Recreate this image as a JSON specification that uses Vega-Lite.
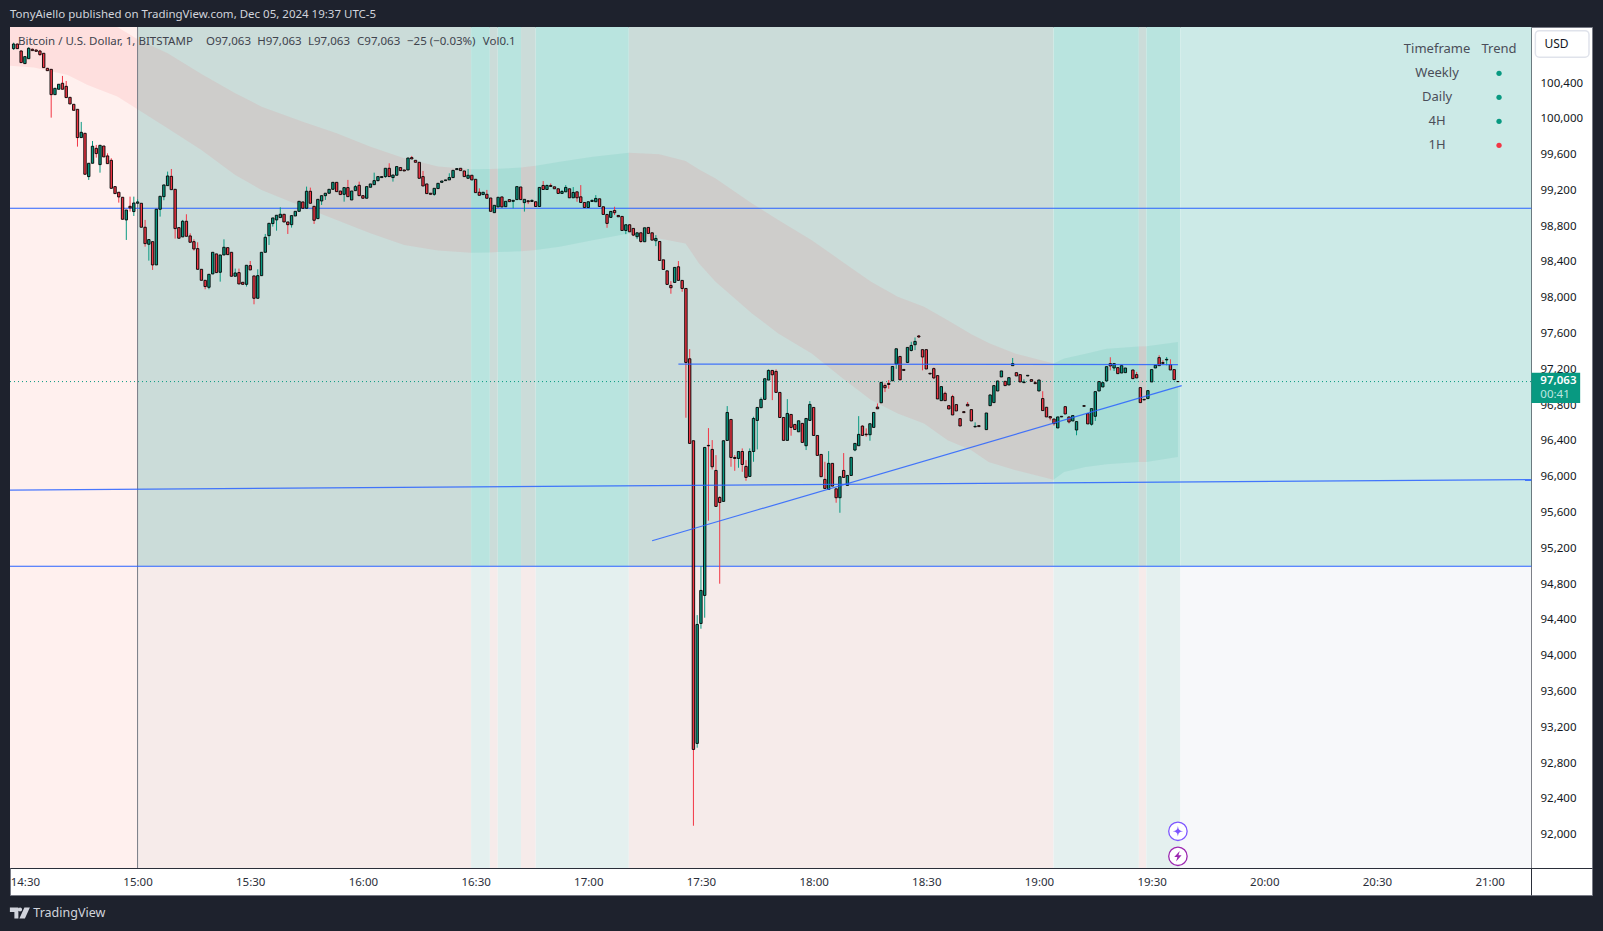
{"$schema":"https://vega.github.io/schema/vega-lite/v6.json","width":1582,"height":868,"autosize":{"type":"none"},"padding":{"left":10,"top":27,"right":11,"bottom":36},"background":"#1e222d","view":{"fill":"#ffffff","stroke":"#787b86"},
"title":{"text":"TonyAiello published on TradingView.com, Dec 05, 2024 19:37 UTC-5","anchor":"start","frame":"group","fontSize":11.5,"fontWeight":"normal","font":"Noto Sans","color":"#d1d4dc","offset":6},
"datasets":{
"zones":[
{"t":"2024-12-05T14:26:02Z","t1":"2024-12-05T15:00Z","a":101026,"b":91627,"z":"left"},
{"t":"2024-12-05T15:00Z","t1":"2024-12-05T16:28:48Z","a":101026,"b":95000,"z":"topR"},
{"t":"2024-12-05T15:00Z","t1":"2024-12-05T16:28:48Z","a":95000,"b":91627,"z":"botR"},
{"t":"2024-12-05T16:28:48Z","t1":"2024-12-05T16:33:48Z","a":101026,"b":95000,"z":"topT"},
{"t":"2024-12-05T16:28:48Z","t1":"2024-12-05T16:33:48Z","a":95000,"b":91627,"z":"botT"},
{"t":"2024-12-05T16:33:48Z","t1":"2024-12-05T16:35:54Z","a":101026,"b":95000,"z":"topR"},
{"t":"2024-12-05T16:33:48Z","t1":"2024-12-05T16:35:54Z","a":95000,"b":91627,"z":"botR"},
{"t":"2024-12-05T16:35:54Z","t1":"2024-12-05T16:42:06Z","a":101026,"b":95000,"z":"topT"},
{"t":"2024-12-05T16:35:54Z","t1":"2024-12-05T16:42:06Z","a":95000,"b":91627,"z":"botT"},
{"t":"2024-12-05T16:42:06Z","t1":"2024-12-05T16:46Z","a":101026,"b":95000,"z":"topR"},
{"t":"2024-12-05T16:42:06Z","t1":"2024-12-05T16:46Z","a":95000,"b":91627,"z":"botR"},
{"t":"2024-12-05T16:46Z","t1":"2024-12-05T17:10:48Z","a":101026,"b":95000,"z":"topT"},
{"t":"2024-12-05T16:46Z","t1":"2024-12-05T17:10:48Z","a":95000,"b":91627,"z":"botT"},
{"t":"2024-12-05T17:10:48Z","t1":"2024-12-05T19:03:53Z","a":101026,"b":95000,"z":"topR"},
{"t":"2024-12-05T17:10:48Z","t1":"2024-12-05T19:03:53Z","a":95000,"b":91627,"z":"botR"},
{"t":"2024-12-05T19:03:53Z","t1":"2024-12-05T19:26:36Z","a":101026,"b":95000,"z":"topT"},
{"t":"2024-12-05T19:03:53Z","t1":"2024-12-05T19:26:36Z","a":95000,"b":91627,"z":"botT"},
{"t":"2024-12-05T19:26:36Z","t1":"2024-12-05T19:28:35Z","a":101026,"b":95000,"z":"topR"},
{"t":"2024-12-05T19:26:36Z","t1":"2024-12-05T19:28:35Z","a":95000,"b":91627,"z":"botR"},
{"t":"2024-12-05T19:28:35Z","t1":"2024-12-05T19:37:40Z","a":101026,"b":95000,"z":"topT"},
{"t":"2024-12-05T19:28:35Z","t1":"2024-12-05T19:37:40Z","a":95000,"b":91627,"z":"botT"},
{"t":"2024-12-05T19:37:40Z","t1":"2024-12-05T21:11:07Z","a":101026,"b":95000,"z":"topN"},
{"t":"2024-12-05T19:37:40Z","t1":"2024-12-05T21:11:07Z","a":95000,"b":91627,"z":"botN"}
],
"cloud":[
{"s":"1","d":"bear","t":"2024-12-05T14:26:02Z","u":101026,"l":100594},
{"s":"1","d":"bear","t":"2024-12-05T14:32:24Z","u":101026,"l":100572},
{"s":"1","d":"bear","t":"2024-12-05T14:41:24Z","u":101026,"l":100490},
{"s":"1","d":"bear","t":"2024-12-05T14:46:42Z","u":101026,"l":100378},
{"s":"1","d":"bear","t":"2024-12-05T14:54:36Z","u":101026,"l":100248},
{"s":"1","d":"bear","t":"2024-12-05T15:00Z","u":100888,"l":100106},
{"s":"1","d":"bear","t":"2024-12-05T15:08Z","u":100732,"l":99894},
{"s":"1","d":"bear","t":"2024-12-05T15:17Z","u":100501,"l":99652},
{"s":"1","d":"bear","t":"2024-12-05T15:26Z","u":100285,"l":99372},
{"s":"1","d":"bear","t":"2024-12-05T15:33Z","u":100136,"l":99205},
{"s":"1","d":"bear","t":"2024-12-05T15:44Z","u":99968,"l":99018},
{"s":"1","d":"bear","t":"2024-12-05T15:53Z","u":99838,"l":98870},
{"s":"1","d":"bear","t":"2024-12-05T16:02Z","u":99689,"l":98720},
{"s":"1","d":"bear","t":"2024-12-05T16:11Z","u":99559,"l":98590},
{"s":"1","d":"bear","t":"2024-12-05T16:20Z","u":99466,"l":98527},
{"s":"1","d":"bear","t":"2024-12-05T16:28:48Z","u":99436,"l":98504},
{"s":"2","d":"bull","t":"2024-12-05T16:28:48Z","u":99436,"l":98504},
{"s":"2","d":"bull","t":"2024-12-05T16:33:48Z","u":99440,"l":98506},
{"s":"3","d":"bear","t":"2024-12-05T16:33:48Z","u":99440,"l":98506},
{"s":"3","d":"bear","t":"2024-12-05T16:35:54Z","u":99441,"l":98510},
{"s":"4","d":"bull","t":"2024-12-05T16:35:54Z","u":99441,"l":98510},
{"s":"4","d":"bull","t":"2024-12-05T16:42:06Z","u":99455,"l":98520},
{"s":"5","d":"bear","t":"2024-12-05T16:42:06Z","u":99455,"l":98520},
{"s":"5","d":"bear","t":"2024-12-05T16:46Z","u":99475,"l":98535},
{"s":"6","d":"bull","t":"2024-12-05T16:46Z","u":99475,"l":98535},
{"s":"6","d":"bull","t":"2024-12-05T16:52:24Z","u":99520,"l":98570},
{"s":"6","d":"bull","t":"2024-12-05T17:01:12Z","u":99575,"l":98644},
{"s":"6","d":"bull","t":"2024-12-05T17:10:48Z","u":99620,"l":98719},
{"s":"7","d":"bear","t":"2024-12-05T17:10:48Z","u":99620,"l":98719},
{"s":"7","d":"bear","t":"2024-12-05T17:18:54Z","u":99605,"l":98663},
{"s":"7","d":"bear","t":"2024-12-05T17:25:54Z","u":99527,"l":98607},
{"s":"7","d":"bear","t":"2024-12-05T17:29:30Z","u":99434,"l":98384},
{"s":"7","d":"bear","t":"2024-12-05T17:33:54Z","u":99333,"l":98179},
{"s":"7","d":"bear","t":"2024-12-05T17:43:36Z","u":99054,"l":97825},
{"s":"7","d":"bear","t":"2024-12-05T17:50:36Z","u":98868,"l":97601},
{"s":"7","d":"bear","t":"2024-12-05T17:59:30Z","u":98644,"l":97378},
{"s":"7","d":"bear","t":"2024-12-05T18:08:18Z","u":98384,"l":97080},
{"s":"7","d":"bear","t":"2024-12-05T18:15:18Z","u":98179,"l":96856},
{"s":"7","d":"bear","t":"2024-12-05T18:22:24Z","u":98011,"l":96707},
{"s":"7","d":"bear","t":"2024-12-05T18:29:24Z","u":97899,"l":96596},
{"s":"7","d":"bear","t":"2024-12-05T18:35:42Z","u":97748,"l":96407},
{"s":"7","d":"bear","t":"2024-12-05T18:42Z","u":97592,"l":96295},
{"s":"7","d":"bear","t":"2024-12-05T18:46:36Z","u":97495,"l":96165},
{"s":"7","d":"bear","t":"2024-12-05T18:53:48Z","u":97375,"l":96072},
{"s":"7","d":"bear","t":"2024-12-05T19:03:53Z","u":97264,"l":95967},
{"s":"8","d":"bull","t":"2024-12-05T19:03:53Z","u":97264,"l":95967},
{"s":"8","d":"bull","t":"2024-12-05T19:06:42Z","u":97320,"l":96053},
{"s":"8","d":"bull","t":"2024-12-05T19:12:24Z","u":97375,"l":96109},
{"s":"8","d":"bull","t":"2024-12-05T19:18Z","u":97431,"l":96139},
{"s":"8","d":"bull","t":"2024-12-05T19:26:36Z","u":97455,"l":96165},
{"s":"9","d":"bear","t":"2024-12-05T19:26:36Z","u":97455,"l":96165},
{"s":"9","d":"bear","t":"2024-12-05T19:28:35Z","u":97458,"l":96165},
{"s":"10","d":"bull","t":"2024-12-05T19:28:35Z","u":97458,"l":96165},
{"s":"10","d":"bull","t":"2024-12-05T19:37Z","u":97506,"l":96221}
],
"levels":[
{"k":"a","t":"2024-12-05T14:26:02Z","p":99000},{"k":"a","t":"2024-12-05T21:11:07Z","p":99000},
{"k":"b","t":"2024-12-05T14:26:02Z","p":95000},{"k":"b","t":"2024-12-05T21:11:07Z","p":95000}
],
"drawn":[
{"k":"c","t":"2024-12-05T14:26:02Z","p":95851},{"k":"c","t":"2024-12-05T21:11:07Z","p":95967},
{"k":"d","t":"2024-12-05T17:24Z","p":97259},{"k":"d","t":"2024-12-05T19:37Z","p":97253},
{"k":"e","t":"2024-12-05T17:17Z","p":95284},{"k":"e","t":"2024-12-05T19:38Z","p":97018}
],
"last":[{"t":"2024-12-05T14:26:02Z","p":97063},{"t":"2024-12-05T21:11:07Z","p":97063}],
"candles":[
{"t":"2024-12-05T14:27Z","o":100784,"h":100851,"l":100769,"c":100836},
{"t":"2024-12-05T14:28Z","o":100836,"h":100840,"l":100784,"c":100784},
{"t":"2024-12-05T14:29Z","o":100758,"h":100765,"l":100628,"c":100628},
{"t":"2024-12-05T14:30Z","o":100617,"h":100695,"l":100617,"c":100695},
{"t":"2024-12-05T14:31Z","o":100672,"h":100800,"l":100672,"c":100788},
{"t":"2024-12-05T14:32Z","o":100777,"h":100785,"l":100762,"c":100762},
{"t":"2024-12-05T14:33Z","o":100769,"h":100775,"l":100754,"c":100754},
{"t":"2024-12-05T14:34Z","o":100758,"h":100770,"l":100705,"c":100717},
{"t":"2024-12-05T14:35Z","o":100732,"h":100732,"l":100572,"c":100572},
{"t":"2024-12-05T14:36Z","o":100564,"h":100570,"l":100538,"c":100538},
{"t":"2024-12-05T14:37Z","o":100553,"h":100553,"l":100013,"c":100270},
{"t":"2024-12-05T14:38Z","o":100270,"h":100341,"l":100270,"c":100341},
{"t":"2024-12-05T14:39Z","o":100330,"h":100386,"l":100330,"c":100386},
{"t":"2024-12-05T14:40Z","o":100397,"h":100479,"l":100330,"c":100330},
{"t":"2024-12-05T14:41Z","o":100363,"h":100423,"l":100237,"c":100237},
{"t":"2024-12-05T14:42Z","o":100240,"h":100240,"l":100166,"c":100166},
{"t":"2024-12-05T14:43Z","o":100162,"h":100162,"l":100095,"c":100095},
{"t":"2024-12-05T14:44Z","o":100106,"h":100106,"l":99689,"c":99790},
{"t":"2024-12-05T14:45Z","o":99790,"h":99965,"l":99790,"c":99849},
{"t":"2024-12-05T14:46Z","o":99838,"h":99838,"l":99380,"c":99380},
{"t":"2024-12-05T14:47Z","o":99354,"h":99503,"l":99317,"c":99503},
{"t":"2024-12-05T14:48Z","o":99503,"h":99752,"l":99503,"c":99693},
{"t":"2024-12-05T14:49Z","o":99670,"h":99708,"l":99566,"c":99611},
{"t":"2024-12-05T14:50Z","o":99488,"h":99704,"l":99398,"c":99704},
{"t":"2024-12-05T14:51Z","o":99696,"h":99696,"l":99574,"c":99574},
{"t":"2024-12-05T14:52Z","o":99585,"h":99614,"l":99499,"c":99499},
{"t":"2024-12-05T14:53Z","o":99536,"h":99559,"l":99223,"c":99223},
{"t":"2024-12-05T14:54Z","o":99242,"h":99242,"l":99164,"c":99164},
{"t":"2024-12-05T14:55Z","o":99179,"h":99179,"l":99063,"c":99127},
{"t":"2024-12-05T14:56Z","o":99123,"h":99123,"l":98877,"c":98877},
{"t":"2024-12-05T14:57Z","o":98870,"h":98981,"l":98646,"c":98981},
{"t":"2024-12-05T14:58Z","o":99022,"h":99130,"l":98963,"c":99004},
{"t":"2024-12-05T14:59Z","o":98963,"h":99130,"l":98914,"c":99059},
{"t":"2024-12-05T15:00Z","o":99056,"h":99100,"l":99056,"c":99071},
{"t":"2024-12-05T15:01Z","o":99056,"h":99056,"l":98788,"c":98788},
{"t":"2024-12-05T15:02Z","o":98788,"h":98870,"l":98571,"c":98605},
{"t":"2024-12-05T15:03Z","o":98598,"h":98650,"l":98415,"c":98650},
{"t":"2024-12-05T15:04Z","o":98627,"h":98627,"l":98311,"c":98367},
{"t":"2024-12-05T15:05Z","o":98367,"h":98989,"l":98367,"c":98989},
{"t":"2024-12-05T15:06Z","o":98989,"h":99134,"l":98907,"c":99134},
{"t":"2024-12-05T15:07Z","o":99130,"h":99261,"l":99090,"c":99261},
{"t":"2024-12-05T15:08Z","o":99253,"h":99410,"l":99253,"c":99361},
{"t":"2024-12-05T15:09Z","o":99357,"h":99439,"l":99208,"c":99208},
{"t":"2024-12-05T15:10Z","o":99212,"h":99212,"l":98661,"c":98773},
{"t":"2024-12-05T15:11Z","o":98784,"h":98784,"l":98665,"c":98665},
{"t":"2024-12-05T15:12Z","o":98680,"h":98870,"l":98680,"c":98855},
{"t":"2024-12-05T15:13Z","o":98855,"h":98933,"l":98687,"c":98687},
{"t":"2024-12-05T15:14Z","o":98691,"h":98720,"l":98620,"c":98620},
{"t":"2024-12-05T15:15Z","o":98627,"h":98653,"l":98527,"c":98545},
{"t":"2024-12-05T15:16Z","o":98549,"h":98620,"l":98318,"c":98318},
{"t":"2024-12-05T15:17Z","o":98318,"h":98318,"l":98195,"c":98195},
{"t":"2024-12-05T15:18Z","o":98195,"h":98195,"l":98095,"c":98125},
{"t":"2024-12-05T15:19Z","o":98117,"h":98262,"l":98095,"c":98262},
{"t":"2024-12-05T15:20Z","o":98266,"h":98508,"l":98266,"c":98508},
{"t":"2024-12-05T15:21Z","o":98490,"h":98490,"l":98281,"c":98281},
{"t":"2024-12-05T15:22Z","o":98285,"h":98478,"l":98180,"c":98478},
{"t":"2024-12-05T15:23Z","o":98478,"h":98653,"l":98478,"c":98564},
{"t":"2024-12-05T15:24Z","o":98560,"h":98560,"l":98482,"c":98482},
{"t":"2024-12-05T15:25Z","o":98508,"h":98508,"l":98240,"c":98240},
{"t":"2024-12-05T15:26Z","o":98240,"h":98326,"l":98240,"c":98277},
{"t":"2024-12-05T15:27Z","o":98281,"h":98326,"l":98154,"c":98154},
{"t":"2024-12-05T15:28Z","o":98173,"h":98173,"l":98150,"c":98150},
{"t":"2024-12-05T15:29Z","o":98150,"h":98363,"l":98125,"c":98363},
{"t":"2024-12-05T15:30Z","o":98359,"h":98411,"l":98311,"c":98311},
{"t":"2024-12-05T15:31Z","o":98244,"h":98244,"l":97927,"c":97994},
{"t":"2024-12-05T15:32Z","o":97994,"h":98318,"l":97994,"c":98247},
{"t":"2024-12-05T15:33Z","o":98247,"h":98508,"l":98247,"c":98508},
{"t":"2024-12-05T15:34Z","o":98508,"h":98713,"l":98508,"c":98676},
{"t":"2024-12-05T15:35Z","o":98694,"h":98832,"l":98590,"c":98832},
{"t":"2024-12-05T15:36Z","o":98829,"h":98892,"l":98795,"c":98892},
{"t":"2024-12-05T15:37Z","o":98870,"h":98922,"l":98750,"c":98922},
{"t":"2024-12-05T15:38Z","o":98896,"h":99011,"l":98896,"c":98933},
{"t":"2024-12-05T15:39Z","o":98933,"h":98933,"l":98847,"c":98847},
{"t":"2024-12-05T15:40Z","o":98847,"h":98847,"l":98713,"c":98817},
{"t":"2024-12-05T15:41Z","o":98817,"h":98918,"l":98784,"c":98918},
{"t":"2024-12-05T15:42Z","o":98914,"h":98966,"l":98914,"c":98966},
{"t":"2024-12-05T15:43Z","o":98966,"h":99078,"l":98966,"c":99078},
{"t":"2024-12-05T15:44Z","o":99071,"h":99071,"l":99000,"c":99000},
{"t":"2024-12-05T15:45Z","o":99000,"h":99242,"l":99000,"c":99190},
{"t":"2024-12-05T15:46Z","o":99190,"h":99231,"l":99056,"c":99056},
{"t":"2024-12-05T15:47Z","o":99022,"h":99022,"l":98825,"c":98866},
{"t":"2024-12-05T15:48Z","o":98884,"h":99100,"l":98884,"c":99100},
{"t":"2024-12-05T15:49Z","o":99082,"h":99141,"l":99037,"c":99141},
{"t":"2024-12-05T15:50Z","o":99141,"h":99168,"l":99093,"c":99168},
{"t":"2024-12-05T15:51Z","o":99168,"h":99212,"l":99168,"c":99212},
{"t":"2024-12-05T15:52Z","o":99212,"h":99290,"l":99212,"c":99290},
{"t":"2024-12-05T15:53Z","o":99290,"h":99290,"l":99186,"c":99186},
{"t":"2024-12-05T15:54Z","o":99193,"h":99193,"l":99153,"c":99153},
{"t":"2024-12-05T15:55Z","o":99156,"h":99231,"l":99074,"c":99231},
{"t":"2024-12-05T15:56Z","o":99231,"h":99317,"l":99130,"c":99130},
{"t":"2024-12-05T15:57Z","o":99093,"h":99193,"l":99093,"c":99193},
{"t":"2024-12-05T15:58Z","o":99197,"h":99260,"l":99197,"c":99242},
{"t":"2024-12-05T15:59Z","o":99257,"h":99298,"l":99141,"c":99141},
{"t":"2024-12-05T16:00Z","o":99141,"h":99141,"l":99112,"c":99112},
{"t":"2024-12-05T16:01Z","o":99112,"h":99242,"l":99112,"c":99242},
{"t":"2024-12-05T16:02Z","o":99235,"h":99272,"l":99235,"c":99272},
{"t":"2024-12-05T16:03Z","o":99264,"h":99398,"l":99264,"c":99309},
{"t":"2024-12-05T16:04Z","o":99309,"h":99354,"l":99300,"c":99354},
{"t":"2024-12-05T16:05Z","o":99343,"h":99354,"l":99343,"c":99354},
{"t":"2024-12-05T16:06Z","o":99354,"h":99447,"l":99340,"c":99447},
{"t":"2024-12-05T16:07Z","o":99447,"h":99503,"l":99354,"c":99354},
{"t":"2024-12-05T16:08Z","o":99343,"h":99372,"l":99298,"c":99372},
{"t":"2024-12-05T16:09Z","o":99369,"h":99466,"l":99369,"c":99466},
{"t":"2024-12-05T16:10Z","o":99455,"h":99455,"l":99421,"c":99421},
{"t":"2024-12-05T16:11Z","o":99428,"h":99428,"l":99417,"c":99417},
{"t":"2024-12-05T16:12Z","o":99428,"h":99562,"l":99428,"c":99562},
{"t":"2024-12-05T16:13Z","o":99566,"h":99585,"l":99551,"c":99551},
{"t":"2024-12-05T16:14Z","o":99536,"h":99536,"l":99514,"c":99514},
{"t":"2024-12-05T16:15Z","o":99514,"h":99514,"l":99335,"c":99335},
{"t":"2024-12-05T16:16Z","o":99354,"h":99417,"l":99249,"c":99249},
{"t":"2024-12-05T16:17Z","o":99272,"h":99272,"l":99164,"c":99164},
{"t":"2024-12-05T16:18Z","o":99168,"h":99168,"l":99156,"c":99156},
{"t":"2024-12-05T16:19Z","o":99156,"h":99223,"l":99140,"c":99223},
{"t":"2024-12-05T16:20Z","o":99220,"h":99279,"l":99220,"c":99279},
{"t":"2024-12-05T16:21Z","o":99290,"h":99305,"l":99290,"c":99305},
{"t":"2024-12-05T16:22Z","o":99309,"h":99317,"l":99309,"c":99317},
{"t":"2024-12-05T16:23Z","o":99317,"h":99391,"l":99317,"c":99343},
{"t":"2024-12-05T16:24Z","o":99343,"h":99424,"l":99343,"c":99424},
{"t":"2024-12-05T16:25Z","o":99432,"h":99443,"l":99432,"c":99443},
{"t":"2024-12-05T16:26Z","o":99447,"h":99447,"l":99421,"c":99421},
{"t":"2024-12-05T16:27Z","o":99417,"h":99417,"l":99354,"c":99354},
{"t":"2024-12-05T16:28Z","o":99335,"h":99439,"l":99335,"c":99369},
{"t":"2024-12-05T16:29Z","o":99369,"h":99369,"l":99317,"c":99317},
{"t":"2024-12-05T16:30Z","o":99324,"h":99324,"l":99175,"c":99175},
{"t":"2024-12-05T16:31Z","o":99179,"h":99223,"l":99145,"c":99145},
{"t":"2024-12-05T16:32Z","o":99153,"h":99179,"l":99153,"c":99179},
{"t":"2024-12-05T16:33Z","o":99156,"h":99205,"l":99112,"c":99112},
{"t":"2024-12-05T16:34Z","o":99115,"h":99115,"l":98966,"c":98966},
{"t":"2024-12-05T16:35Z","o":98951,"h":99033,"l":98951,"c":99033},
{"t":"2024-12-05T16:36Z","o":99015,"h":99123,"l":99015,"c":99123},
{"t":"2024-12-05T16:37Z","o":99127,"h":99127,"l":99015,"c":99015},
{"t":"2024-12-05T16:38Z","o":99018,"h":99078,"l":99018,"c":99078},
{"t":"2024-12-05T16:39Z","o":99097,"h":99097,"l":99074,"c":99074},
{"t":"2024-12-05T16:40Z","o":99078,"h":99089,"l":99000,"c":99089},
{"t":"2024-12-05T16:41Z","o":99097,"h":99242,"l":99097,"c":99242},
{"t":"2024-12-05T16:42Z","o":99238,"h":99238,"l":99097,"c":99097},
{"t":"2024-12-05T16:43Z","o":99063,"h":99100,"l":98963,"c":99100},
{"t":"2024-12-05T16:44Z","o":99084,"h":99084,"l":99047,"c":99073},
{"t":"2024-12-05T16:45Z","o":99076,"h":99100,"l":99076,"c":99088},
{"t":"2024-12-05T16:46Z","o":99073,"h":99073,"l":99020,"c":99020},
{"t":"2024-12-05T16:47Z","o":99020,"h":99233,"l":99020,"c":99233},
{"t":"2024-12-05T16:48Z","o":99255,"h":99304,"l":99210,"c":99210},
{"t":"2024-12-05T16:49Z","o":99210,"h":99265,"l":99210,"c":99255},
{"t":"2024-12-05T16:50Z","o":99255,"h":99277,"l":99244,"c":99244},
{"t":"2024-12-05T16:51Z","o":99240,"h":99240,"l":99218,"c":99218},
{"t":"2024-12-05T16:52Z","o":99218,"h":99218,"l":99166,"c":99166},
{"t":"2024-12-05T16:53Z","o":99166,"h":99205,"l":99166,"c":99188},
{"t":"2024-12-05T16:54Z","o":99184,"h":99259,"l":99184,"c":99233},
{"t":"2024-12-05T16:55Z","o":99218,"h":99218,"l":99117,"c":99117},
{"t":"2024-12-05T16:56Z","o":99117,"h":99237,"l":99117,"c":99177},
{"t":"2024-12-05T16:57Z","o":99184,"h":99184,"l":99073,"c":99117},
{"t":"2024-12-05T16:58Z","o":99128,"h":99259,"l":99065,"c":99065},
{"t":"2024-12-05T16:59Z","o":99065,"h":99065,"l":99009,"c":99009},
{"t":"2024-12-05T17:00Z","o":99009,"h":99073,"l":99009,"c":99073},
{"t":"2024-12-05T17:01Z","o":99076,"h":99099,"l":99076,"c":99088},
{"t":"2024-12-05T17:02Z","o":99073,"h":99147,"l":99073,"c":99110},
{"t":"2024-12-05T17:03Z","o":99106,"h":99106,"l":99020,"c":99020},
{"t":"2024-12-05T17:04Z","o":99017,"h":99017,"l":98931,"c":98931},
{"t":"2024-12-05T17:05Z","o":98931,"h":98931,"l":98782,"c":98831},
{"t":"2024-12-05T17:06Z","o":98898,"h":98965,"l":98898,"c":98965},
{"t":"2024-12-05T17:07Z","o":98976,"h":99017,"l":98924,"c":98950},
{"t":"2024-12-05T17:08Z","o":98920,"h":98925,"l":98905,"c":98905},
{"t":"2024-12-05T17:09Z","o":98909,"h":98909,"l":98752,"c":98752},
{"t":"2024-12-05T17:10Z","o":98752,"h":98816,"l":98711,"c":98816},
{"t":"2024-12-05T17:11Z","o":98816,"h":98816,"l":98737,"c":98737},
{"t":"2024-12-05T17:12Z","o":98775,"h":98775,"l":98689,"c":98700},
{"t":"2024-12-05T17:13Z","o":98682,"h":98726,"l":98655,"c":98726},
{"t":"2024-12-05T17:14Z","o":98726,"h":98726,"l":98614,"c":98629},
{"t":"2024-12-05T17:15Z","o":98626,"h":98782,"l":98626,"c":98782},
{"t":"2024-12-05T17:16Z","o":98786,"h":98786,"l":98719,"c":98719},
{"t":"2024-12-05T17:17Z","o":98726,"h":98726,"l":98644,"c":98644},
{"t":"2024-12-05T17:18Z","o":98637,"h":98700,"l":98577,"c":98663},
{"t":"2024-12-05T17:19Z","o":98629,"h":98629,"l":98417,"c":98417},
{"t":"2024-12-05T17:20Z","o":98424,"h":98424,"l":98316,"c":98316},
{"t":"2024-12-05T17:21Z","o":98301,"h":98301,"l":98149,"c":98149},
{"t":"2024-12-05T17:22Z","o":98138,"h":98186,"l":98045,"c":98112},
{"t":"2024-12-05T17:23Z","o":98171,"h":98339,"l":98171,"c":98339},
{"t":"2024-12-05T17:24Z","o":98346,"h":98410,"l":98194,"c":98194},
{"t":"2024-12-05T17:25Z","o":98194,"h":98194,"l":98067,"c":98104},
{"t":"2024-12-05T17:26Z","o":98104,"h":98104,"l":96659,"c":97277},
{"t":"2024-12-05T17:27Z","o":97318,"h":97426,"l":96372,"c":96372},
{"t":"2024-12-05T17:28Z","o":96402,"h":96402,"l":92099,"c":92952},
{"t":"2024-12-05T17:29Z","o":93019,"h":94453,"l":92971,"c":94349},
{"t":"2024-12-05T17:30Z","o":94360,"h":95001,"l":94301,"c":94729},
{"t":"2024-12-05T17:31Z","o":94673,"h":96327,"l":94424,"c":96327},
{"t":"2024-12-05T17:32Z","o":96350,"h":96543,"l":95508,"c":96345},
{"t":"2024-12-05T17:33Z","o":96305,"h":96409,"l":96081,"c":96111},
{"t":"2024-12-05T17:34Z","o":96070,"h":96241,"l":95668,"c":95668},
{"t":"2024-12-05T17:35Z","o":95768,"h":95783,"l":94804,"c":95712},
{"t":"2024-12-05T17:36Z","o":95724,"h":96402,"l":95724,"c":96402},
{"t":"2024-12-05T17:37Z","o":96405,"h":96789,"l":96405,"c":96718},
{"t":"2024-12-05T17:38Z","o":96640,"h":96640,"l":96111,"c":96215},
{"t":"2024-12-05T17:39Z","o":96215,"h":96241,"l":96066,"c":96204},
{"t":"2024-12-05T17:40Z","o":96204,"h":96282,"l":96100,"c":96282},
{"t":"2024-12-05T17:41Z","o":96282,"h":96316,"l":96055,"c":96137},
{"t":"2024-12-05T17:42Z","o":96115,"h":96185,"l":95955,"c":95992},
{"t":"2024-12-05T17:43Z","o":96003,"h":96316,"l":96003,"c":96282},
{"t":"2024-12-05T17:44Z","o":96282,"h":96670,"l":96167,"c":96651},
{"t":"2024-12-05T17:45Z","o":96629,"h":96774,"l":96305,"c":96774},
{"t":"2024-12-05T17:46Z","o":96771,"h":96886,"l":96771,"c":96864},
{"t":"2024-12-05T17:47Z","o":96864,"h":97095,"l":96864,"c":97095},
{"t":"2024-12-05T17:48Z","o":97080,"h":97199,"l":97080,"c":97188},
{"t":"2024-12-05T17:49Z","o":97188,"h":97188,"l":96856,"c":97139},
{"t":"2024-12-05T17:50Z","o":97177,"h":97199,"l":96942,"c":96942},
{"t":"2024-12-05T17:51Z","o":96942,"h":96942,"l":96662,"c":96662},
{"t":"2024-12-05T17:52Z","o":96662,"h":96662,"l":96406,"c":96406},
{"t":"2024-12-05T17:53Z","o":96406,"h":96867,"l":96406,"c":96707},
{"t":"2024-12-05T17:54Z","o":96696,"h":96696,"l":96458,"c":96551},
{"t":"2024-12-05T17:55Z","o":96584,"h":96584,"l":96528,"c":96528},
{"t":"2024-12-05T17:56Z","o":96502,"h":96625,"l":96502,"c":96625},
{"t":"2024-12-05T17:57Z","o":96596,"h":96596,"l":96383,"c":96383},
{"t":"2024-12-05T17:58Z","o":96346,"h":96651,"l":96298,"c":96651},
{"t":"2024-12-05T17:59Z","o":96629,"h":96845,"l":96629,"c":96808},
{"t":"2024-12-05T18:00Z","o":96774,"h":96774,"l":96461,"c":96461},
{"t":"2024-12-05T18:01Z","o":96461,"h":96461,"l":96238,"c":96238},
{"t":"2024-12-05T18:02Z","o":96249,"h":96249,"l":96000,"c":96000},
{"t":"2024-12-05T18:03Z","o":95970,"h":96167,"l":95869,"c":95869},
{"t":"2024-12-05T18:04Z","o":95858,"h":96286,"l":95858,"c":96149},
{"t":"2024-12-05T18:05Z","o":96149,"h":96149,"l":95895,"c":95895},
{"t":"2024-12-05T18:06Z","o":95865,"h":95865,"l":95709,"c":95765},
{"t":"2024-12-05T18:07Z","o":95765,"h":96000,"l":95597,"c":96000},
{"t":"2024-12-05T18:08Z","o":96070,"h":96264,"l":95992,"c":95992},
{"t":"2024-12-05T18:09Z","o":95903,"h":96014,"l":95903,"c":96014},
{"t":"2024-12-05T18:10Z","o":96014,"h":96216,"l":96014,"c":96216},
{"t":"2024-12-05T18:11Z","o":96298,"h":96372,"l":96285,"c":96372},
{"t":"2024-12-05T18:12Z","o":96346,"h":96677,"l":96346,"c":96473},
{"t":"2024-12-05T18:13Z","o":96566,"h":96575,"l":96461,"c":96461},
{"t":"2024-12-05T18:14Z","o":96476,"h":96540,"l":96447,"c":96469},
{"t":"2024-12-05T18:15Z","o":96469,"h":96592,"l":96402,"c":96592},
{"t":"2024-12-05T18:16Z","o":96551,"h":96718,"l":96551,"c":96718},
{"t":"2024-12-05T18:17Z","o":96778,"h":96819,"l":96759,"c":96759},
{"t":"2024-12-05T18:18Z","o":96826,"h":97054,"l":96826,"c":97054},
{"t":"2024-12-05T18:19Z","o":97020,"h":97043,"l":96946,"c":96994},
{"t":"2024-12-05T18:20Z","o":97043,"h":97080,"l":96983,"c":97031},
{"t":"2024-12-05T18:21Z","o":97072,"h":97232,"l":97072,"c":97232},
{"t":"2024-12-05T18:22Z","o":97259,"h":97430,"l":97205,"c":97430},
{"t":"2024-12-05T18:23Z","o":97344,"h":97344,"l":97083,"c":97083},
{"t":"2024-12-05T18:24Z","o":97199,"h":97199,"l":97188,"c":97188},
{"t":"2024-12-05T18:25Z","o":97277,"h":97445,"l":97277,"c":97445},
{"t":"2024-12-05T18:26Z","o":97411,"h":97508,"l":97400,"c":97467},
{"t":"2024-12-05T18:27Z","o":97475,"h":97556,"l":97415,"c":97512},
{"t":"2024-12-05T18:28Z","o":97573,"h":97584,"l":97551,"c":97562},
{"t":"2024-12-05T18:29Z","o":97420,"h":97420,"l":97189,"c":97338},
{"t":"2024-12-05T18:30Z","o":97420,"h":97420,"l":97204,"c":97204},
{"t":"2024-12-05T18:31Z","o":97156,"h":97156,"l":97148,"c":97148},
{"t":"2024-12-05T18:32Z","o":97208,"h":97220,"l":97090,"c":97104},
{"t":"2024-12-05T18:33Z","o":97130,"h":97130,"l":96869,"c":96869},
{"t":"2024-12-05T18:34Z","o":96850,"h":97007,"l":96850,"c":97007},
{"t":"2024-12-05T18:35Z","o":96932,"h":96950,"l":96850,"c":96850},
{"t":"2024-12-05T18:36Z","o":96794,"h":96794,"l":96757,"c":96757},
{"t":"2024-12-05T18:37Z","o":96895,"h":96915,"l":96690,"c":96690},
{"t":"2024-12-05T18:38Z","o":96806,"h":96806,"l":96735,"c":96735},
{"t":"2024-12-05T18:39Z","o":96649,"h":96649,"l":96567,"c":96567},
{"t":"2024-12-05T18:40Z","o":96727,"h":96727,"l":96716,"c":96716},
{"t":"2024-12-05T18:41Z","o":96809,"h":96835,"l":96791,"c":96791},
{"t":"2024-12-05T18:42Z","o":96750,"h":96750,"l":96623,"c":96623},
{"t":"2024-12-05T18:43Z","o":96556,"h":96608,"l":96556,"c":96563},
{"t":"2024-12-05T18:44Z","o":96571,"h":96571,"l":96560,"c":96560},
{"t":"2024-12-05T18:46Z","o":96526,"h":96712,"l":96526,"c":96712},
{"t":"2024-12-05T18:47Z","o":96794,"h":96914,"l":96794,"c":96914},
{"t":"2024-12-05T18:48Z","o":96828,"h":97018,"l":96828,"c":97018},
{"t":"2024-12-05T18:49Z","o":96958,"h":97070,"l":96958,"c":97070},
{"t":"2024-12-05T18:50Z","o":97115,"h":97182,"l":97115,"c":97182},
{"t":"2024-12-05T18:51Z","o":97066,"h":97066,"l":97018,"c":97018},
{"t":"2024-12-05T18:52Z","o":97025,"h":97107,"l":97025,"c":97107},
{"t":"2024-12-05T18:53Z","o":97241,"h":97327,"l":97241,"c":97264},
{"t":"2024-12-05T18:54Z","o":97163,"h":97163,"l":97126,"c":97126},
{"t":"2024-12-05T18:55Z","o":97141,"h":97141,"l":97059,"c":97059},
{"t":"2024-12-05T18:56Z","o":97051,"h":97089,"l":97051,"c":97059},
{"t":"2024-12-05T18:57Z","o":97126,"h":97133,"l":97126,"c":97133},
{"t":"2024-12-05T18:58Z","o":97085,"h":97085,"l":97066,"c":97066},
{"t":"2024-12-05T18:59Z","o":97051,"h":97070,"l":97040,"c":97040},
{"t":"2024-12-05T19:00Z","o":96958,"h":97081,"l":96958,"c":97081},
{"t":"2024-12-05T19:01Z","o":96873,"h":96955,"l":96739,"c":96739},
{"t":"2024-12-05T19:02Z","o":96776,"h":96776,"l":96668,"c":96668},
{"t":"2024-12-05T19:03Z","o":96672,"h":96672,"l":96630,"c":96657},
{"t":"2024-12-05T19:04Z","o":96645,"h":96645,"l":96571,"c":96593},
{"t":"2024-12-05T19:05Z","o":96545,"h":96668,"l":96545,"c":96668},
{"t":"2024-12-05T19:06Z","o":96675,"h":96675,"l":96668,"c":96668},
{"t":"2024-12-05T19:07Z","o":96783,"h":96783,"l":96701,"c":96701},
{"t":"2024-12-05T19:08Z","o":96668,"h":96668,"l":96595,"c":96612},
{"t":"2024-12-05T19:09Z","o":96623,"h":96683,"l":96623,"c":96683},
{"t":"2024-12-05T19:10Z","o":96522,"h":96616,"l":96463,"c":96616},
{"t":"2024-12-05T19:12Z","o":96794,"h":96794,"l":96787,"c":96787},
{"t":"2024-12-05T19:13Z","o":96705,"h":96705,"l":96590,"c":96590},
{"t":"2024-12-05T19:14Z","o":96586,"h":96761,"l":96570,"c":96761},
{"t":"2024-12-05T19:15Z","o":96675,"h":96951,"l":96623,"c":96951},
{"t":"2024-12-05T19:16Z","o":96958,"h":97063,"l":96958,"c":97063},
{"t":"2024-12-05T19:17Z","o":97003,"h":97051,"l":97003,"c":97051},
{"t":"2024-12-05T19:18Z","o":97070,"h":97230,"l":97070,"c":97230},
{"t":"2024-12-05T19:19Z","o":97264,"h":97335,"l":97189,"c":97238},
{"t":"2024-12-05T19:20Z","o":97215,"h":97264,"l":97182,"c":97264},
{"t":"2024-12-05T19:21Z","o":97219,"h":97219,"l":97152,"c":97152},
{"t":"2024-12-05T19:22Z","o":97159,"h":97241,"l":97159,"c":97241},
{"t":"2024-12-05T19:23Z","o":97163,"h":97215,"l":97163,"c":97215},
{"t":"2024-12-05T19:25Z","o":97193,"h":97193,"l":97096,"c":97096},
{"t":"2024-12-05T19:26Z","o":97141,"h":97171,"l":97104,"c":97104},
{"t":"2024-12-05T19:27Z","o":96996,"h":96996,"l":96828,"c":96828},
{"t":"2024-12-05T19:28Z","o":96865,"h":96865,"l":96858,"c":96858},
{"t":"2024-12-05T19:29Z","o":96873,"h":96962,"l":96873,"c":96962},
{"t":"2024-12-05T19:30Z","o":97059,"h":97197,"l":97059,"c":97197},
{"t":"2024-12-05T19:31Z","o":97215,"h":97245,"l":97215,"c":97245},
{"t":"2024-12-05T19:32Z","o":97331,"h":97357,"l":97241,"c":97241},
{"t":"2024-12-05T19:33Z","o":97275,"h":97301,"l":97249,"c":97267},
{"t":"2024-12-05T19:34Z","o":97305,"h":97338,"l":97245,"c":97312},
{"t":"2024-12-05T19:35Z","o":97253,"h":97312,"l":97193,"c":97193},
{"t":"2024-12-05T19:36Z","o":97197,"h":97197,"l":97085,"c":97085},
{"t":"2024-12-05T19:37Z","o":97063,"h":97063,"l":97063,"c":97063}
],
"table":[
{"t":"2024-12-05T20:46Z","p":100777,"s":"Timeframe"},
{"t":"2024-12-05T21:02:30Z","p":100777,"s":"Trend"},
{"t":"2024-12-05T20:46Z","p":100508,"s":"Weekly"},
{"t":"2024-12-05T20:46Z","p":100240,"s":"Daily"},
{"t":"2024-12-05T20:46Z","p":99972,"s":"4H"},
{"t":"2024-12-05T20:46Z","p":99704,"s":"1H"}
],
"dots":[
{"t":"2024-12-05T21:02:30Z","p":100508,"trend":"up"},
{"t":"2024-12-05T21:02:30Z","p":100240,"trend":"up"},
{"t":"2024-12-05T21:02:30Z","p":99972,"trend":"up"},
{"t":"2024-12-05T21:02:30Z","p":99704,"trend":"down"}
],
"header":[
{"t":"2024-12-05T14:28:10Z","p":100860,"s":"Bitcoin / U.S. Dollar, 1, BITSTAMP"},
{"t":"2024-12-05T15:18:14Z","p":100860,"s":"O97,063"},
{"t":"2024-12-05T15:31:50Z","p":100860,"s":"H97,063"},
{"t":"2024-12-05T15:45:22Z","p":100860,"s":"L97,063"},
{"t":"2024-12-05T15:58:26Z","p":100860,"s":"C97,063"},
{"t":"2024-12-05T16:11:44Z","p":100860,"s":"−25 (−0.03%)"},
{"t":"2024-12-05T16:31:56Z","p":100860,"s":"Vol0.1"}
]
},
"layer":[
{"data":{"name":"zones"},"mark":{"type":"rect"},"encoding":{
"x":{"field":"t","type":"temporal","scale":{"type":"utc","domain":[1733408762000,1733434035000],"range":[0,1582],"nice":false,"padding":0},
"axis":{"orient":"bottom","offset":-27,"title":null,"grid":false,"ticks":false,"format":"%H:%M","values":[1733409000000,1733410800000,1733412600000,1733414400000,1733416200000,1733418000000,1733419800000,1733421600000,1733423400000,1733425200000,1733427000000,1733428800000,1733430600000,1733432400000],"labelOverlap":false,"labelFlush":false,"labelBound":false,"labelPadding":8,"labelFont":"Noto Sans","labelFontSize":11.5,"domainColor":"#2a2e39","domainWidth":1,"labelColor":"#2a2e39"}},
"x2":{"field":"t1"},
"y":{"field":"a","type":"quantitative","scale":{"domain":[91325,101026],"nice":false,"zero":false},
"axis":{"orient":"right","offset":-61,"title":null,"grid":false,"ticks":false,"values":[92000,92400,92800,93200,93600,94000,94400,94800,95200,95600,96000,96400,96800,97200,97600,98000,98400,98800,99200,99600,100000,100400],"format":",d","labelPadding":9,"labelFont":"Noto Sans","labelFontSize":11.5,"labelColor":"#131722","domainColor":"#2a2e39","domainWidth":1,"labelOverlap":false,"labelBound":false,"labelFlush":false}},
"y2":{"field":"b"},
"color":{"field":"z","type":"nominal","legend":null,"scale":{"domain":["left","topR","botR","topT","botT","topN","botN","bear","bull","up","down"],"range":["#fff0ee","#cbdcd9","#f6ebea","#b9e4df","#e4f0ef","#cceae7","#f7f8fa","#f23645","#009688","#089981","#f23645"]}}}},
{"data":{"name":"cloud"},"mark":{"type":"area","opacity":0.09,"interpolate":"linear"},"encoding":{
"x":{"field":"t","type":"temporal"},"y":{"field":"u","type":"quantitative"},"y2":{"field":"l"},"detail":{"field":"s","type":"nominal"},
"color":{"field":"d","type":"nominal","legend":null}}},
{"data":{"values":[{"t":"2024-12-05T15:00Z","a":101026,"b":91627}]},"mark":{"type":"rule","color":"#787b86","strokeWidth":1},"encoding":{"x":{"field":"t","type":"temporal"},"y":{"field":"a","type":"quantitative"},"y2":{"field":"b"}}},
{"data":{"name":"levels"},"mark":{"type":"line","color":"#2962ff","strokeWidth":1.1},"encoding":{"x":{"field":"t","type":"temporal"},"y":{"field":"p","type":"quantitative"},"detail":{"field":"k","type":"nominal"}}},
{"data":{"name":"last"},"mark":{"type":"line","color":"#089981","strokeWidth":1,"strokeDash":[1,3]},"encoding":{"x":{"field":"t","type":"temporal"},"y":{"field":"p","type":"quantitative"}}},
{"data":{"name":"candles"},"mark":{"type":"rule","strokeWidth":1},"encoding":{"x":{"field":"t","type":"temporal"},"y":{"field":"h","type":"quantitative"},"y2":{"field":"l"},
"color":{"condition":{"test":"datum.c>=datum.o","value":"#089981"},"value":"#f23645"}}},
{"data":{"name":"candles"},"mark":{"type":"bar","width":2.4,"stroke":"#000000","strokeWidth":0.9},"encoding":{"x":{"field":"t","type":"temporal"},"y":{"field":"o","type":"quantitative"},"y2":{"field":"c"},
"fill":{"condition":{"test":"datum.c>=datum.o","value":"#089981"},"value":"#f23645"}}},
{"data":{"name":"drawn"},"mark":{"type":"line","color":"#2962ff","strokeWidth":1.2,"opacity":0.85},"encoding":{"x":{"field":"t","type":"temporal"},"y":{"field":"p","type":"quantitative"},"detail":{"field":"k","type":"nominal"}}},
{"data":{"name":"header"},"mark":{"type":"text","align":"left","baseline":"middle","font":"Noto Sans","fontSize":11.5,"color":"#40434d"},"encoding":{"x":{"field":"t","type":"temporal"},"y":{"field":"p","type":"quantitative"},"text":{"field":"s"}}},
{"data":{"name":"table"},"mark":{"type":"text","align":"center","baseline":"middle","font":"Noto Sans","fontSize":13,"color":"#4a4e59"},"encoding":{"x":{"field":"t","type":"temporal"},"y":{"field":"p","type":"quantitative"},"text":{"field":"s"}}},
{"data":{"name":"dots"},"mark":{"type":"point","filled":true,"opacity":1,"size":28},"encoding":{"x":{"field":"t","type":"temporal"},"y":{"field":"p","type":"quantitative"},
"color":{"field":"trend","type":"nominal","legend":null}}},
{"data":{"values":[{"t":"2024-12-05T21:12:10Z","t1":"2024-12-05T21:26:27Z","a":100985,"b":100688}]},"mark":{"type":"rect","fill":"#ffffff","stroke":"#e0e3eb","strokeWidth":1.5,"cornerRadius":4},"encoding":{"x":{"field":"t","type":"temporal"},"x2":{"field":"t1"},"y":{"field":"a","type":"quantitative"},"y2":{"field":"b"}}},
{"data":{"values":[{"t":"2024-12-05T21:14:35Z","p":100836,"s":"USD"}]},"mark":{"type":"text","align":"left","baseline":"middle","font":"Noto Sans","fontSize":12,"color":"#131722"},"encoding":{"x":{"field":"t","type":"temporal"},"y":{"field":"p","type":"quantitative"},"text":{"field":"s"}}},
{"data":{"values":[{"t":"2024-12-05T21:11:07Z","t1":"2024-12-05T21:24:06Z","a":97163,"b":96824}]},"mark":{"type":"rect","fill":"#089981"},"encoding":{"x":{"field":"t","type":"temporal"},"x2":{"field":"t1"},"y":{"field":"a","type":"quantitative"},"y2":{"field":"b"}}},
{"data":{"values":[{"t":"2024-12-05T21:13:30Z","p":97073,"s":"97,063"}]},"mark":{"type":"text","align":"left","baseline":"middle","font":"Noto Sans","fontSize":11.5,"fontWeight":600,"color":"#ffffff"},"encoding":{"x":{"field":"t","type":"temporal"},"y":{"field":"p","type":"quantitative"},"text":{"field":"s"}}},
{"data":{"values":[{"t":"2024-12-05T21:13:30Z","p":96913,"s":"00:41"}]},"mark":{"type":"text","align":"left","baseline":"middle","font":"Noto Sans","fontSize":11.5,"color":"#bfe6e0"},"encoding":{"x":{"field":"t","type":"temporal"},"y":{"field":"p","type":"quantitative"},"text":{"field":"s"}}},
{"data":{"values":[{"t":"2024-12-05T19:37Z","p":92037,"k":"star"},{"t":"2024-12-05T19:37Z","p":91758,"k":"flash"}]},"mark":{"type":"point","shape":"circle","filled":false,"fill":"#ffffff","fillOpacity":1,"opacity":1,"strokeWidth":1.3,"size":340},"encoding":{"x":{"field":"t","type":"temporal"},"y":{"field":"p","type":"quantitative"},
"stroke":{"field":"k","type":"nominal","legend":null,"scale":{"domain":["star","flash"],"range":["#7e57ff","#9c27b0"]}}}},
{"data":{"values":[{"t":"2024-12-05T19:37Z","p":92037}]},"mark":{"type":"point","filled":true,"opacity":1,"color":"#7e57ff","size":110,"shape":"M0,-1 C0.12,-0.25 0.25,-0.12 1,0 C0.25,0.12 0.12,0.25 0,1 C-0.12,0.25 -0.25,0.12 -1,0 C-0.25,-0.12 -0.12,-0.25 0,-1 Z"},"encoding":{"x":{"field":"t","type":"temporal"},"y":{"field":"p","type":"quantitative"}}},
{"data":{"values":[{"t":"2024-12-05T19:37Z","p":91758}]},"mark":{"type":"point","filled":true,"opacity":1,"color":"#9c27b0","size":110,"shape":"M0.35,-1 L-0.7,0.15 L-0.1,0.15 L-0.35,1 L0.7,-0.2 L0.1,-0.2 Z"},"encoding":{"x":{"field":"t","type":"temporal"},"y":{"field":"p","type":"quantitative"}}},
{"data":{"values":[{"t":"2024-12-05T14:28:40Z","p":91124}]},"mark":{"type":"point","filled":true,"opacity":1,"color":"#d1d4dc","size":400,"shape":"M-1,-0.55 L-0.15,-0.55 L-0.15,0.55 L-0.55,0.55 L-0.55,-0.1 L-1,-0.1 Z M0.45,-0.55 L1,-0.55 L0.5,0.55 L-0.05,0.55 Z M0.02,-0.55 A0.2,0.2 0 1 1 0.02,-0.15 A0.2,0.2 0 1 1 0.02,-0.55 Z"},"encoding":{"x":{"field":"t","type":"temporal"},"y":{"field":"p","type":"quantitative"}}},
{"data":{"values":[{"t":"2024-12-05T14:32:15Z","p":91124,"s":"TradingView"}]},"mark":{"type":"text","align":"left","baseline":"middle","font":"Noto Sans","fontSize":12.5,"color":"#d1d4dc"},"encoding":{"x":{"field":"t","type":"temporal"},"y":{"field":"p","type":"quantitative"},"text":{"field":"s"}}}
]}
